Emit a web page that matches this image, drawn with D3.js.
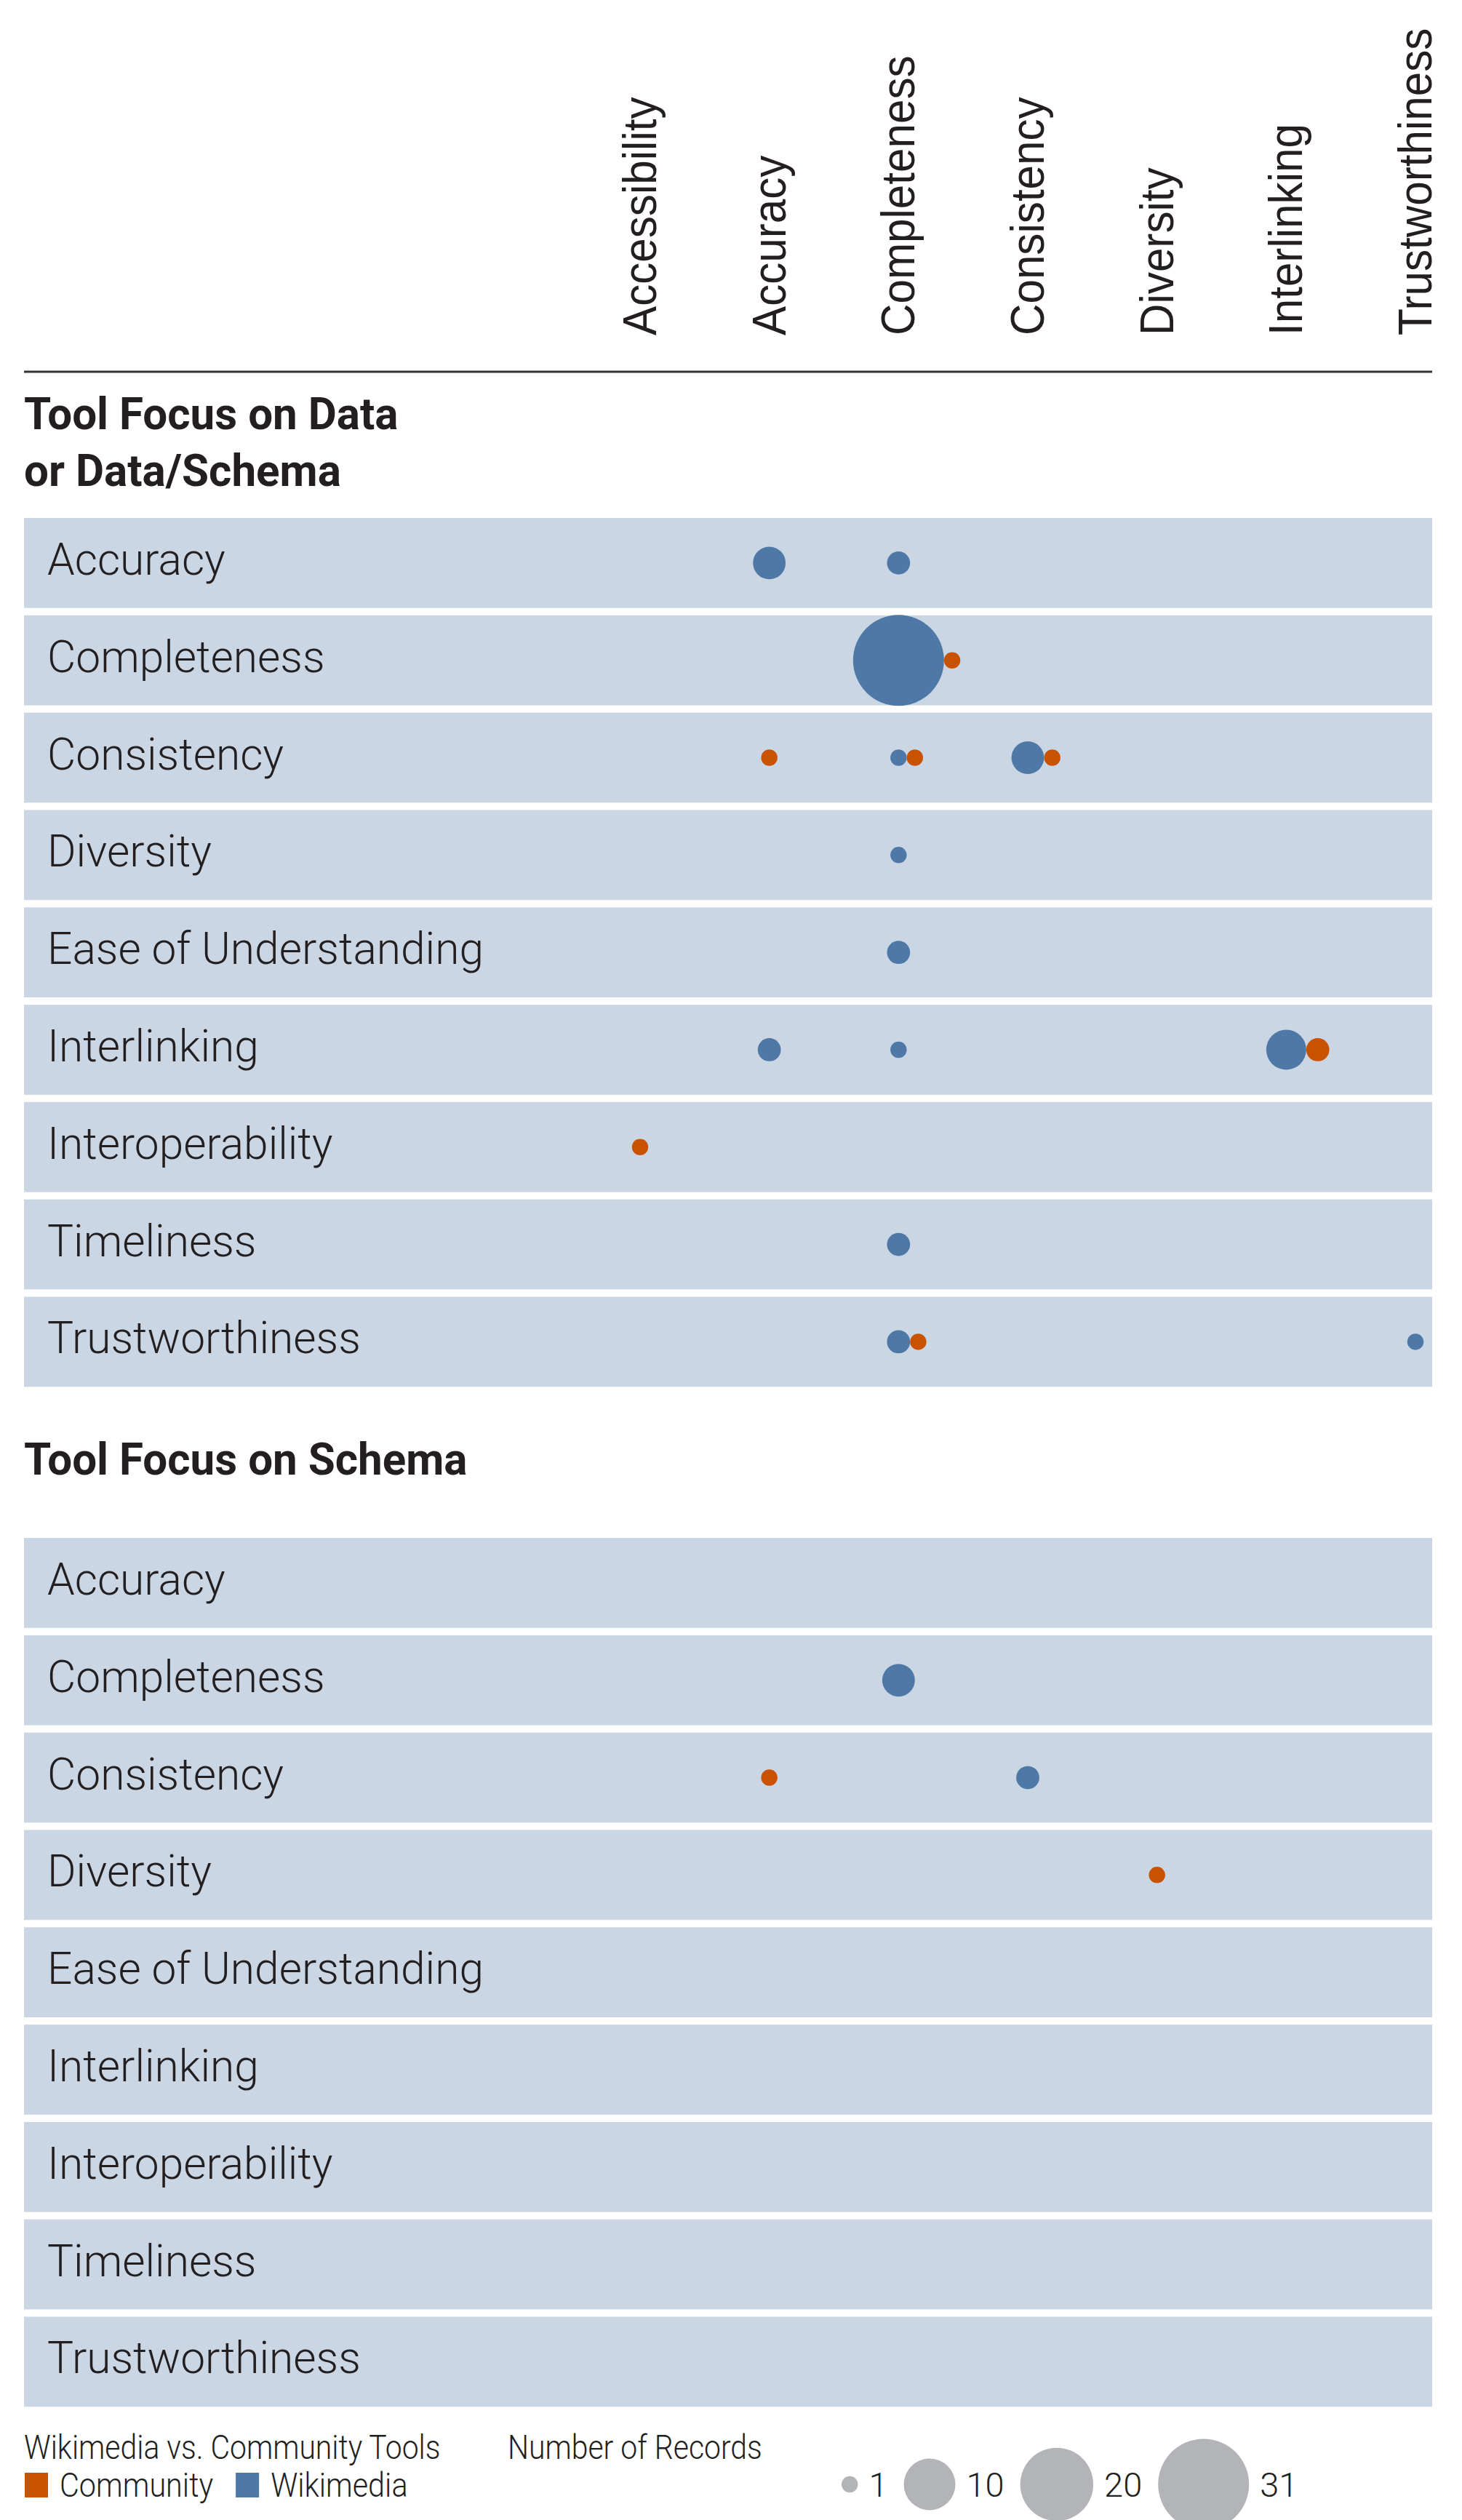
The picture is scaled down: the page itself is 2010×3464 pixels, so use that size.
<!DOCTYPE html>
<html>
<head>
<meta charset="utf-8">
<script src="https://cdn.jsdelivr.net/npm/d3@7"></script>
<style>
  body { margin: 0; background: #fff; }
  text { fill: #231f20; }
</style>
</head>
<body>
<script>
// Quality dimensions along the top (columns) and down each panel (rows)
var columns = ["Accessibility", "Accuracy", "Completeness", "Consistency", "Diversity", "Interlinking", "Trustworthiness"];
var rows = ["Accuracy", "Completeness", "Consistency", "Diversity", "Ease of Understanding",
  "Interlinking", "Interoperability", "Timeliness", "Trustworthiness"];
var sectionTitles = [["Tool Focus on Data", "or Data/Schema"], ["Tool Focus on Schema"]];

// [row, column, number of records]
var dataWikimedia = [
  ["Accuracy", "Accuracy", 4], ["Accuracy", "Completeness", 2],
  ["Completeness", "Completeness", 31],
  ["Consistency", "Completeness", 1], ["Consistency", "Consistency", 4],
  ["Diversity", "Completeness", 1],
  ["Ease of Understanding", "Completeness", 2],
  ["Interlinking", "Accuracy", 2], ["Interlinking", "Completeness", 1], ["Interlinking", "Interlinking", 6],
  ["Timeliness", "Completeness", 2],
  ["Trustworthiness", "Completeness", 2], ["Trustworthiness", "Trustworthiness", 1]
];
var dataCommunity = [
  ["Completeness", "Completeness", 1],
  ["Consistency", "Accuracy", 1], ["Consistency", "Completeness", 1], ["Consistency", "Consistency", 1],
  ["Interlinking", "Interlinking", 2],
  ["Interoperability", "Accessibility", 1],
  ["Trustworthiness", "Completeness", 1]
];
var schemaWikimedia = [["Completeness", "Completeness", 4], ["Consistency", "Consistency", 2]];
var schemaCommunity = [["Consistency", "Accuracy", 1], ["Diversity", "Diversity", 1]];

var sourceNames = ["Community", "Wikimedia"];
var sizeLegend = [1, 10, 20, 31];

var colors = {Community: "#c85200", Wikimedia: "#4e78a6"};
var bandFill = "#cad6e3";

var width = 2010, height = 3464;
var left = 33, right = 1969;

var svg = d3.select("body").append("svg")
  .attr("width", width)
  .attr("height", height);

// squeeze text horizontally to mimic the condensed face of the original
function condense(sel, f) {
  sel.each(function() {
    var w = this.getComputedTextLength();
    d3.select(this).attr("textLength", w * f).attr("lengthAdjust", "spacingAndGlyphs");
  });
}

// Scales
var x = d3.scalePoint().domain(columns).range([880, 1946]);
var r = d3.scaleSqrt().domain([0, 31]).range([0, 62.5]);

// Column headers
svg.append("g").selectAll("text")
  .data(columns)
  .enter().append("text")
    .attr("transform", function(d) { return "translate(" + (x(d) + 22) + ",461) rotate(-90)"; })
    .style("font-family", "'Liberation Sans', Arial, sans-serif")
    .style("font-size", "64px")
    .text(function(d) { return d; })
    .call(condense, 0.94);

svg.append("line")
  .attr("x1", left).attr("x2", right)
  .attr("y1", 511).attr("y2", 511)
  .attr("stroke", "#333").attr("stroke-width", 3);

var sections = [
  {title: sectionTitles[0], titleY: 590, top: 712, wik: dataWikimedia, com: dataCommunity},
  {title: sectionTitles[1], titleY: 2027, top: 2114, wik: schemaWikimedia, com: schemaCommunity}
];

sections.forEach(function(sec) {
  var y = d3.scaleBand().domain(rows)
    .range([sec.top, sec.top + rows.length * 132.7])
    .paddingInner(10 / 132.7).paddingOuter(0);

  var g = svg.append("g");

  g.selectAll("text.title")
    .data(sec.title)
    .enter().append("text")
      .attr("class", "title")
      .attr("x", left)
      .attr("y", function(d, i) { return sec.titleY + i * 78; })
      .style("font-family", "Roboto, sans-serif")
      .style("font-weight", 700)
      .style("font-size", "62px")
      .text(function(d) { return d; })
      .call(condense, 0.97);

  // Row bands
  g.selectAll("rect.band")
    .data(rows)
    .enter().append("rect")
      .attr("class", "band")
      .attr("x", left)
      .attr("width", right - left)
      .attr("y", function(d) { return y(d); })
      .attr("height", y.bandwidth())
      .attr("fill", bandFill);

  g.selectAll("text.row")
    .data(rows)
    .enter().append("text")
      .attr("class", "row")
      .attr("x", 65)
      .attr("y", function(d) { return y(d) + y.bandwidth() / 2 + 16; })
      .style("font-family", "Roboto, sans-serif")
      .style("font-weight", 300)
      .style("font-size", "62px")
      .text(function(d) { return d; })
      .call(condense, 0.975);

  // Build the dots; when both sources share a cell the community dot sits to the right
  var dots = [];
  sec.wik.forEach(function(d) {
    dots.push({row: d[0], col: d[1], n: d[2], src: "Wikimedia", cx: x(d[1])});
  });
  sec.com.forEach(function(d) {
    var pair = sec.wik.find(function(w) { return w[0] === d[0] && w[1] === d[1]; });
    var cx = pair ? x(d[1]) + r(pair[2]) + r(d[2]) : x(d[1]);
    dots.push({row: d[0], col: d[1], n: d[2], src: "Community", cx: cx});
  });

  g.selectAll("circle")
    .data(dots)
    .enter().append("circle")
      .attr("cx", function(d) { return d.cx; })
      .attr("cy", function(d) { return y(d.row) + y.bandwidth() / 2; })
      .attr("r", function(d) { return r(d.n); })
      .attr("fill", function(d) { return colors[d.src]; });
});

// Legend: colour
var legend = svg.append("g");
var legendFont = function(sel) {
  sel.style("font-family", "Roboto, sans-serif")
    .style("font-weight", 300)
    .style("font-size", "47px");
};

legend.append("text").attr("x", left).attr("y", 3380)
  .text("Wikimedia vs. Community Tools").call(legendFont).call(condense, 0.87);
legend.append("text").attr("x", 698).attr("y", 3380)
  .text("Number of Records").call(legendFont).call(condense, 0.87);

var lx = 34;
sourceNames.forEach(function(name) {
  legend.append("rect")
    .attr("x", lx).attr("y", 3399)
    .attr("width", 32).attr("height", 34)
    .attr("fill", colors[name]);
  var t = legend.append("text")
    .attr("x", lx + 48).attr("y", 3432)
    .text(name).call(legendFont);
  var w = t.node().getComputedTextLength() * 0.88;
  t.attr("textLength", w).attr("lengthAdjust", "spacingAndGlyphs");
  lx += 48 + w + 31;
});

// Legend: size
var sx = 1157;
sizeLegend.forEach(function(v) {
  legend.append("circle")
    .attr("cx", sx + r(v)).attr("cy", 3415)
    .attr("r", r(v))
    .attr("fill", "#b3b4b8");
  var t = legend.append("text")
    .attr("x", sx + 2 * r(v) + 15).attr("y", 3432)
    .text(v).call(legendFont);
  var w = t.node().getComputedTextLength();
  sx += 2 * r(v) + 15 + w + 22;
});
</script>
</body>
</html>
